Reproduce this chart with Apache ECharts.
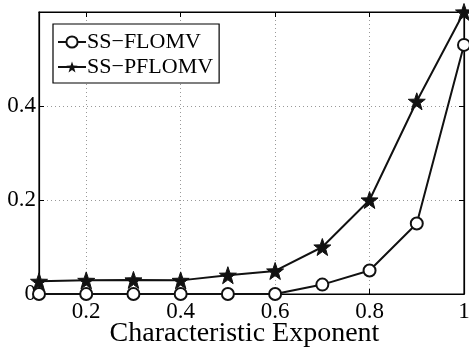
<!DOCTYPE html>
<html lang="en">
<head>
	<meta charset="UTF-8">
	<title>Characteristic Exponent</title>
	<script src="https://cdn.jsdelivr.net/npm/echarts@6/dist/echarts.min.js"></script>
</head>
<body style="margin:0">
	<div id="main" style="width: 469px;height: 350px"></div>
	<script>
		// data
		var alphas = [0.1, 0.2, 0.3, 0.4, 0.5, 0.6, 0.7, 0.8, 0.9, 1.0];
		var flomv = [0, 0, 0, 0, 0, 0, 0.02, 0.05, 0.15, 0.53];
		var pflomv = [0.027, 0.029, 0.03, 0.029, 0.04, 0.049, 0.10, 0.20, 0.41, 0.60];
		var xTicks = [0.2, 0.4, 0.6, 0.8, 1];
		var seriesNames = ['SS\u2212FLOMV', 'SS\u2212PFLOMV'];

		var starPath = 'path://M0,-10 L2.35,-3.24 L9.51,-3.09 L3.8,1.24 L5.88,8.09 L0,4 L-5.88,8.09 L-3.8,1.24 L-9.51,-3.09 L-2.35,-3.24 Z';
		var font = '"Liberation Serif", "DejaVu Serif", serif';
		var frame = { show: true, onZero: false, lineStyle: { color: '#000', width: 1.2 } };
		var tick = { show: true, inside: true, length: 5, lineStyle: { color: '#000' } };
		var dotted = { show: true, lineStyle: { type: [1, 3], color: '#999', width: 1 } };

		function pairs(ys) {
			return alphas.map(function (a, i) { return [a, ys[i]]; });
		}

		var myChart = echarts.init(document.getElementById('main'));
		var option = {
			animation: false,
			grid: {
				left: 39, right: 5, top: 12, bottom: 56, outerBoundsMode: 'none', containLabel: false,
				show: true, borderColor: '#000', borderWidth: 1.2, backgroundColor: 'transparent'
			},
			legend: {
				left: 53, top: 24,
				orient: 'vertical',
				data: seriesNames,
				backgroundColor: '#fff',
				borderColor: '#000', borderWidth: 1.2,
				padding: [7, 6, 5, 4],
				itemGap: 3,
				itemWidth: 28, itemHeight: 14,
				textStyle: { fontFamily: font, fontSize: 22, color: '#000', padding: [0, 0, 0, -4] }
			},
			xAxis: [{
				type: 'value', min: 0.1, max: 1,
				name: 'Characteristic Exponent', nameLocation: 'middle', nameGap: 26, nameMoveOverlap: false,
				nameTextStyle: { fontFamily: font, fontSize: 28, color: '#000', padding: [0, 14, 0, 0] },
				axisLine: frame,
				axisTick: Object.assign({ customValues: xTicks }, tick),
				axisLabel: { customValues: xTicks, fontFamily: font, fontSize: 23, color: '#000', margin: 6 },
				splitLine: dotted
			}, {
				type: 'value', min: 0.1, max: 1, position: 'top',
				axisLine: frame,
				axisTick: Object.assign({ customValues: xTicks }, tick),
				axisLabel: { show: false },
				splitLine: { show: false }
			}],
			yAxis: [{
				type: 'value', min: 0, max: 0.6, interval: 0.2,
				axisLine: frame,
				axisTick: tick,
				axisLabel: {
					fontFamily: font, fontSize: 23, color: '#000', margin: 3,
					formatter: function (v) { return v >= 0.59 ? '' : String(+v.toFixed(1)); }
				},
				splitLine: dotted
			}, {
				type: 'value', min: 0, max: 0.6, interval: 0.2, position: 'right',
				axisLine: frame,
				axisTick: tick,
				axisLabel: { show: false },
				splitLine: { show: false }
			}],
			series: [{
				name: seriesNames[0], type: 'line', data: pairs(flomv),
				symbol: 'emptyCircle', symbolSize: 12,
				lineStyle: { color: '#111', width: 2 },
				itemStyle: { color: '#111', borderColor: '#111', borderWidth: 2 }
			}, {
				name: seriesNames[1], type: 'line', data: pairs(pflomv),
				symbol: starPath, symbolSize: 17,
				lineStyle: { color: '#111', width: 2 },
				itemStyle: { color: '#111', borderColor: '#111' }
			}]
		};
		myChart.setOption(option);
	</script>
</body>
</html>
